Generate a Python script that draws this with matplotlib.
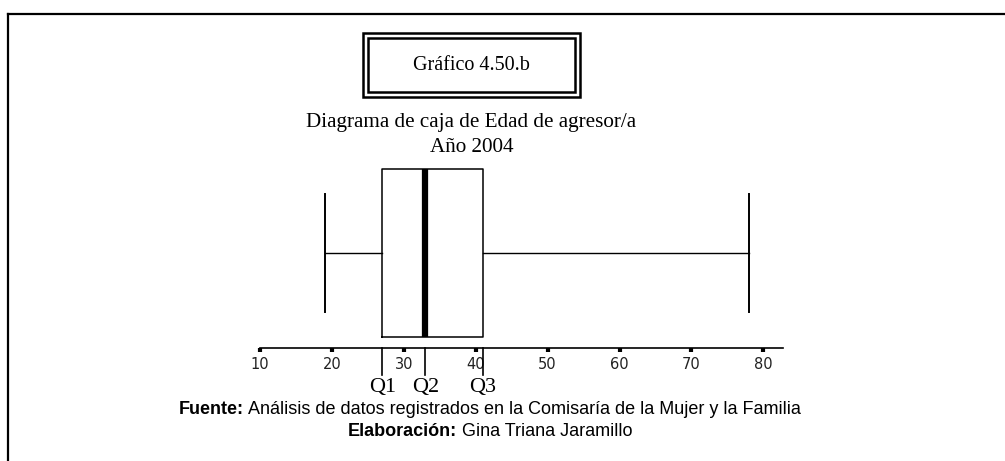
import matplotlib
matplotlib.use("Agg")
import matplotlib.pyplot as plt
from matplotlib.patches import Rectangle
from matplotlib.lines import Line2D
from matplotlib.offsetbox import TextArea, HPacker, AnchoredOffsetbox

# five-number summary
edad_min = 19
edad_q1 = 27
edad_mediana = 33
edad_q3 = 41
edad_max = 78

x_ticks = [10, 20, 30, 40, 50, 60, 70, 80]
cuartiles = [edad_q1, edad_mediana, edad_q3]
cuartil_labels = ["Q1", "Q2", "Q3"]

W, H = 1005, 461
fig = plt.figure(figsize=(W / 100, H / 100), dpi=100)
fig.patch.set_facecolor("white")

serif = ["Liberation Serif", "DejaVu Serif"]
sans = ["Liberation Sans", "DejaVu Sans"]

def px(x, y):
    # pixel coords (top-left origin) -> figure fraction
    return x / W, 1 - y / H

# outer frame (open on right/bottom, as in the scan)
fig.add_artist(Line2D([8 / W, 8 / W], [0, 1 - 14 / H], color="black", lw=1.6))
fig.add_artist(Line2D([8 / W, 1], [1 - 14 / H, 1 - 14 / H], color="black", lw=1.6))

# double-bordered caption box
x0, y0, x1, y1 = 363, 33, 580, 97
fig.add_artist(Rectangle(px(x0, y1), (x1 - x0) / W, (y1 - y0) / H,
                         transform=fig.transFigure, fill=False, lw=1.8, ec="black"))
fig.add_artist(Rectangle(px(x0 + 5, y1 - 5), (x1 - x0 - 10) / W, (y1 - y0 - 10) / H,
                         transform=fig.transFigure, fill=False, lw=1.8, ec="black"))
fig.text(*px(471.5, 66), "Gráfico 4.50.b", ha="center", va="center",
         family=serif, fontsize=14.5)

fig.text(*px(471.5, 122), "Diagrama de caja de Edad de agresor/a", ha="center",
         va="center", family=serif, fontsize=15.2)
fig.text(*px(471.5, 147), "Año 2004", ha="center", va="center", family=serif, fontsize=15.2)

# boxplot axes: x from 10 at px 260 to 84.4 at px 783, bottom spine at px 348
ax_l, ax_r, ax_t, ax_b = 260, 783, 160, 348
ax = fig.add_axes([ax_l / W, 1 - ax_b / H, (ax_r - ax_l) / W, (ax_b - ax_t) / H])
ax.set_xlim(10, 10 + (ax_r - ax_l) / 7.19)
ax.set_ylim(0, 1)

stats = [{"med": edad_mediana, "q1": edad_q1, "q3": edad_q3,
          "whislo": edad_min, "whishi": edad_max, "fliers": []}]
ax.bxp(stats, positions=[(ax_b - 253) / (ax_b - ax_t)], vert=False,
       widths=168 / (ax_b - ax_t), capwidths=[118 / (ax_b - ax_t)],
       showfliers=False,
       boxprops=dict(color="black", lw=1.1),
       whiskerprops=dict(color="black", lw=1.0),
       capprops=dict(color="black", lw=1.4),
       medianprops=dict(color="black", lw=4.5))

for side in ["top", "right", "left"]:
    ax.spines[side].set_visible(False)
ax.spines["bottom"].set_linewidth(1.2)
ax.set_yticks([])
ax.set_xticks(x_ticks)
ax.set_xticklabels([str(t) for t in x_ticks], family=["DejaVu Sans"], fontsize=10.5,
                   color="#222222")
ax.tick_params(axis="x", direction="out", length=3, width=3, pad=3.5)
ax.patch.set_visible(False)

# quartile markers below the axis
for q, lab in zip(cuartiles, cuartil_labels):
    ax.plot([q, q], [0, -27 / (ax_b - ax_t)], color="black", lw=1.2, clip_on=False)
    ax.text(q, -39 / (ax_b - ax_t), lab, ha="center", va="center",
            family=serif, fontsize=16)

# source lines
def source_line(bold, normal, y):
    a = TextArea(bold, textprops=dict(family=sans, fontsize=13, weight="bold"))
    b = TextArea(normal, textprops=dict(family=sans, fontsize=13))
    box = HPacker(children=[a, b], align="baseline", pad=0, sep=0)
    anch = AnchoredOffsetbox(loc="center", child=box, frameon=False,
                             bbox_to_anchor=px(490, y), bbox_transform=fig.transFigure,
                             borderpad=0, pad=0)
    fig.add_artist(anch)

source_line("Fuente:", " Análisis de datos registrados en la Comisaría de la Mujer y la Familia", 409)
source_line("Elaboración:", " Gina Triana Jaramillo", 431)

fig.savefig("out.png", dpi=100)
